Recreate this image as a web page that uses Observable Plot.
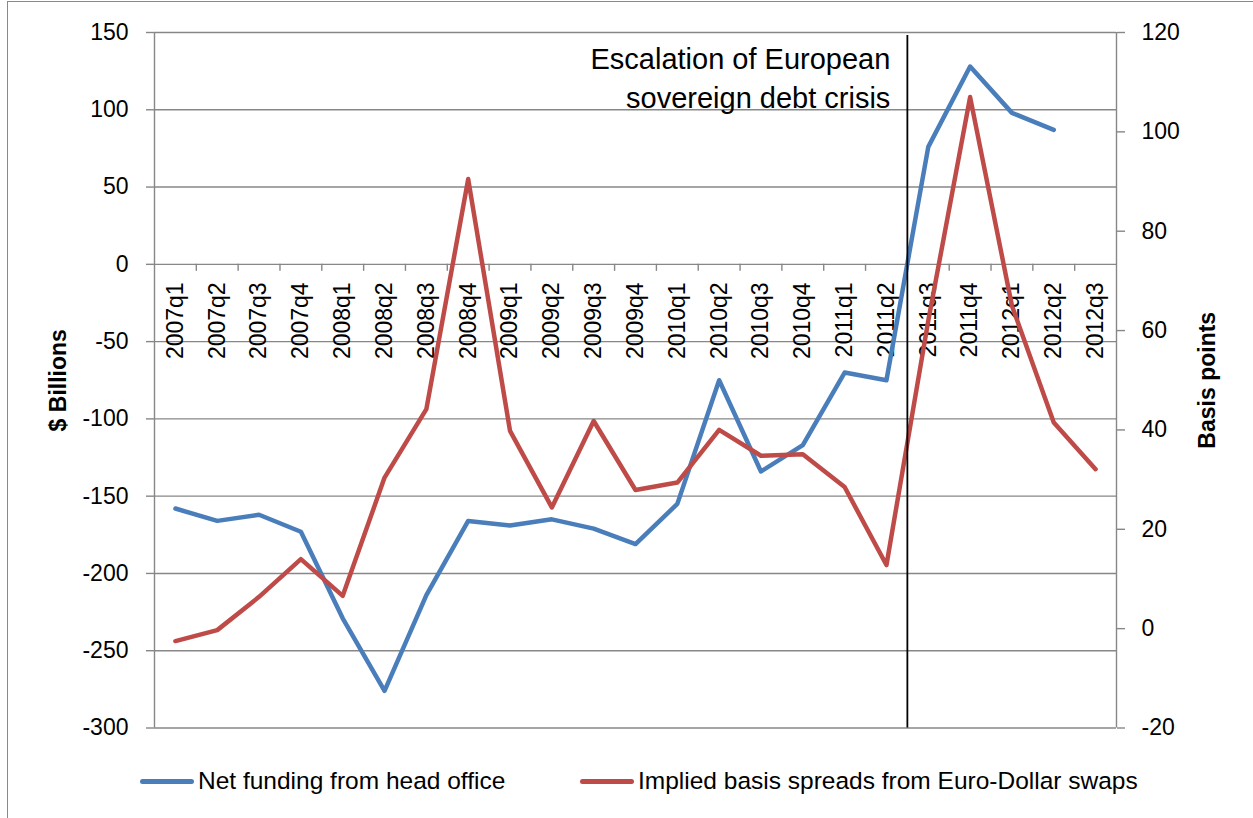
<!DOCTYPE html>
<html>
<head>
<meta charset="utf-8">
<script src="https://cdn.jsdelivr.net/npm/d3@7"></script>
<script src="https://cdn.jsdelivr.net/npm/@observablehq/plot@0.6"></script>
<style>
  html, body { margin: 0; padding: 0; background: #fff; overflow: hidden; width: 1253px; height: 818px; }
  #wrap { position: relative; width: 1253px; height: 818px; font-family: "Liberation Sans", Arial, sans-serif; }
  #frame { position: absolute; left: 7px; top: 1px; width: 1400px; height: 1000px; border: 1px solid #898989; box-sizing: border-box; pointer-events: none; }
  #chart { position: absolute; left: 0; top: 0; }
  .item { position: absolute; top: 767px; height: 28px; display: flex; align-items: center; font-size: 24.5px; color: #000; white-space: nowrap; }
  .swatch { width: 54px; height: 5px; border-radius: 3px; margin-right: 4px; }
</style>
</head>
<body>
<div id="wrap">
  <div id="frame"></div>
  <div id="chart"></div>
  <div class="item" style="left:140px"><span class="swatch" style="background:#4A7EBB"></span><span id="lab1"></span></div>
  <div class="item" style="left:580px"><span class="swatch" style="background:#BE4B48"></span><span id="lab2"></span></div>
</div>
<script>
// ---- data ----
const quarters = ["2007q1","2007q2","2007q3","2007q4","2008q1","2008q2","2008q3","2008q4",
  "2009q1","2009q2","2009q3","2009q4","2010q1","2010q2","2010q3","2010q4",
  "2011q1","2011q2","2011q3","2011q4","2012q1","2012q2","2012q3"];
// $ Billions (left axis)
const netFunding = [-158, -166, -162, -173, -229, -276, -214, -166,
  -169, -165, -171, -181, -155, -75, -134, -117,
  -70, -75, 76, 128, 98, 87, null];
// Basis points (right axis)
const basisSpread = [-2.5, -0.3, 6.4, 14, 6.6, 30.4, 44.2, 90.5,
  39.8, 24.4, 41.8, 27.9, 29.4, 40, 34.8, 35.1,
  28.5, 12.8, 62, 107, 65, 41.5, 32.1];
const leftTicks = [-300, -250, -200, -150, -100, -50, 0, 50, 100, 150];
const rightTicks = [-20, 0, 20, 40, 60, 80, 100, 120];
const seriesNames = ["Net funding from head office", "Implied basis spreads from Euro-Dollar swaps"];
const crisisAfter = "2011q2";
const annotation = "Escalation of European\nsovereign debt crisis";
const leftTitle = "$ Billions";
const rightTitle = "Basis points";

// ---- scales mapping right axis onto left ----
const L0 = leftTicks[0], L1 = leftTicks[leftTicks.length - 1];
const R0 = rightTicks[0], R1 = rightTicks[rightTicks.length - 1];
const toLeft = v => L0 + (v - R0) * (L1 - L0) / (R1 - R0);
const fromLeft = y => R0 + (y - L0) * (R1 - R0) / (L1 - L0);

const idx = d3.range(quarters.length);
const blueData = idx.filter(i => netFunding[i] != null).map(i => ({i, v: netFunding[i]}));
const redData = idx.filter(i => basisSpread[i] != null).map(i => ({i, v: toLeft(basisSpread[i])}));
const boundaries = d3.range(quarters.length - 1).map(i => i + 0.5);
const crisisX = quarters.indexOf(crisisAfter) + 0.5;

const gray = "#878787";
const chart = Plot.plot({
  width: 1253,
  height: 762,
  marginLeft: 154,
  marginRight: 137,
  marginTop: 32,
  marginBottom: 34.5,
  x: {type: "linear", domain: [-0.5, quarters.length - 0.5], axis: null},
  y: {domain: [L0, L1], axis: null},
  style: {fontFamily: "'Liberation Sans', Arial, sans-serif", background: "transparent", color: "#000"},
  marks: [
    Plot.ruleY(leftTicks, {stroke: gray, strokeWidth: 1.4}),
    Plot.ruleX([-0.5, quarters.length - 0.5], {stroke: gray, strokeWidth: 1.4}),
    Plot.ruleX(boundaries, {y1: 0, y2: 0, insetBottom: -7, stroke: gray, strokeWidth: 1.4}),
    Plot.axisY(leftTicks, {anchor: "left", tickSize: 8, tickPadding: 18, fontSize: 23, stroke: gray, strokeWidth: 1.4, tickFormat: d => String(d), label: null}),
    Plot.axisY(rightTicks.map(toLeft), {anchor: "right", tickSize: 8, tickPadding: 17, fontSize: 23, stroke: gray, strokeWidth: 1.4, tickFormat: d => String(Math.round(fromLeft(d))), label: null}),
    Plot.text(idx, {x: i => i, y: 0, text: i => quarters[i], rotate: -90, textAnchor: "end", dy: 18, fontSize: 23, fill: "#000"}),
    Plot.text([leftTitle], {frameAnchor: "left", textAnchor: "middle", dx: -96, rotate: -90, fontSize: 23, fontWeight: "bold", fill: "#000"}),
    Plot.text([rightTitle], {frameAnchor: "right", textAnchor: "middle", dx: 91, rotate: -90, fontSize: 23, fontWeight: "bold", fill: "#000"}),
    Plot.line(blueData, {x: "i", y: "v", stroke: "#4A7EBB", strokeWidth: 4.5, strokeLinejoin: "round", strokeLinecap: "round"}),
    Plot.line(redData, {x: "i", y: "v", stroke: "#BE4B48", strokeWidth: 4.5, strokeLinejoin: "round", strokeLinecap: "round"}),
    Plot.ruleX([crisisX], {stroke: "#000", strokeWidth: 1.8, insetTop: 3}),
    Plot.text([annotation], {x: crisisX, frameAnchor: "top", dx: -17, dy: 9, textAnchor: "end", lineAnchor: "top", lineHeight: 1.34, fontSize: 29, fill: "#000"})
  ]
});
document.getElementById("chart").appendChild(chart);
document.getElementById("lab1").textContent = seriesNames[0];
document.getElementById("lab2").textContent = seriesNames[1];
</script>
</body>
</html>
